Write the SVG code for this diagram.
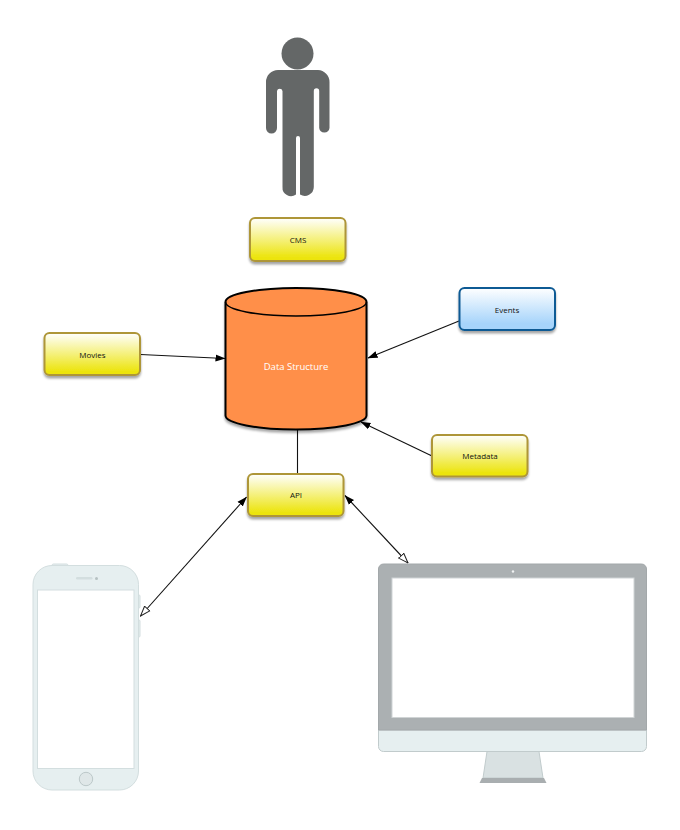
<svg xmlns="http://www.w3.org/2000/svg" width="680" height="830" viewBox="0 0 680 830">
<style>
text{font-family:"Open Sans","DejaVu Sans",sans-serif;text-anchor:middle}
.lbl{font-size:8px;fill:#111}
.y{fill:url(#gy);stroke:#ae9638;stroke-width:2}
.b{fill:url(#gb);stroke:#0e5a94;stroke-width:2}
.c{stroke:#111;stroke-width:1.100;fill:none}
.ph{fill:#e6eff0;stroke:#d3dedf;stroke-width:1}
</style>
<defs>
<linearGradient id="gy" x1="0" y1="0" x2="0" y2="1"><stop offset="0" stop-color="#fff"/><stop offset=".92" stop-color="#ece40c"/><stop offset="1" stop-color="#ece40c"/></linearGradient>
<linearGradient id="gb" x1="0" y1="0" x2="0" y2="1"><stop offset="0" stop-color="#fff"/><stop offset=".85" stop-color="#a6d4fb"/><stop offset="1" stop-color="#a6d4fb"/></linearGradient>
<filter id="sh" x="-10%" y="-15%" width="120%" height="135%"><feDropShadow dx="0" dy="2.500" stdDeviation="1.300" flood-color="#000" flood-opacity=".35"/></filter>
<marker id="af" viewBox="0 0 10 8" refX="9.500" refY="4" markerWidth="10" markerHeight="8" markerUnits="userSpaceOnUse" orient="auto-start-reverse"><path d="M0 .5L10 4L0 7.500Z" fill="#000"/></marker>
<marker id="ao" viewBox="0 0 11 9" refX="10.500" refY="4.500" markerWidth="11" markerHeight="9" markerUnits="userSpaceOnUse" orient="auto"><path d="M.5 1L10.500 4.500L.5 8Z" fill="#fff" stroke="#222" stroke-width="1"/></marker>
</defs>

<g id="person" fill="#646767">
<circle cx="297.500" cy="53.500" r="16"/>
<path d="M278 70H318A12 12 0 0 1 329.500 82V128A5.200 5.200 0 0 1 319.200 128V91A2.700 2.700 0 0 0 313.800 91V187A9 9 0 0 1 300 194.500V138A2 2 0 0 0 296 138V194.500A8.500 8.500 0 0 1 282.500 187V91A2.800 2.800 0 0 0 277 91V128A5.400 5.400 0 0 1 266 128V82A12 12 0 0 1 278 70Z"/>
</g>

<g id="connectors">
<path class="c" d="M297.500 430V473.500"/>
<path class="c" marker-end="url(#af)" d="M140.500 354.500L225 358.500"/>
<path class="c" marker-end="url(#af)" d="M459 321L368 358"/>
<path class="c" marker-end="url(#af)" d="M432 456L361 422"/>
<path class="c" marker-start="url(#af)" marker-end="url(#ao)" d="M246.500 497L140.500 616"/>
<path class="c" marker-start="url(#af)" marker-end="url(#ao)" d="M345 495.500L408 563"/>
</g>

<g id="cms"><rect class="y" filter="url(#sh)" x="250" y="218" width="95.500" height="43" rx="5"/><text class="lbl" x="298" y="242.500">CMS</text></g>
<g id="movies"><rect class="y" filter="url(#sh)" x="44.500" y="333" width="95.500" height="42" rx="5"/><text class="lbl" x="92.500" y="357.500">Movies</text></g>
<g id="api"><rect class="y" filter="url(#sh)" x="248" y="474" width="95.500" height="42" rx="5"/><text class="lbl" x="296" y="497.500">API</text></g>
<g id="events"><rect class="b" filter="url(#sh)" x="459.500" y="288" width="95.500" height="42" rx="5"/><text class="lbl" x="507" y="312.500">Events</text></g>
<g id="metadata"><rect class="y" filter="url(#sh)" x="432" y="435" width="95.500" height="41.500" rx="5"/><text class="lbl" x="480" y="458.500">Metadata</text></g>

<g id="data-structure">
<path filter="url(#sh)" d="M225.500 302A70.500 14 0 0 1 366.500 302V415.500A70.500 14 0 0 1 225.500 415.500Z" fill="#ff8f49" stroke="#000" stroke-width="2"/>
<path d="M225.500 302A70.500 14 0 0 0 366.500 302" fill="none" stroke="#000" stroke-width="1.500"/>
<text x="296" y="370" font-size="9.500" style="fill:#fff">Data Structure</text>
</g>

<g id="phone">
<rect x="52" y="564" width="16" height="4" rx="1.500" class="ph"/>
<rect x="137" y="595" width="3" height="13" rx="1" class="ph"/>
<rect x="137" y="620" width="3" height="17" rx="1" class="ph"/>
<rect x="33" y="565.500" width="105.500" height="224.500" rx="19" class="ph"/>
<rect x="37.500" y="590" width="96.500" height="178.500" fill="#fff" stroke="#d3dedf"/>
<rect x="76" y="577" width="16.500" height="2.500" rx="1.200" fill="#d3dedf"/>
<circle cx="96.500" cy="578.500" r="1.500" fill="#b6c1c2"/>
<circle cx="86" cy="779" r="6.700" fill="#dfe7e8" stroke="#bcc8c9"/>
</g>

<g id="monitor">
<path d="M487 751.500H539L543 778H483Z" fill="#d9e1e2" stroke="#c1cbcc"/>
<path d="M482 778H544L546.500 783H479.500Z" fill="#a9aeb0"/>
<path d="M378.500 730H646.500V746.500A5 5 0 0 1 641.500 751.500H383.500A5 5 0 0 1 378.500 746.500Z" fill="#e6eff0" stroke="#c1cbcc"/>
<path d="M378.500 730V569A5 5 0 0 1 383.500 564H641.500A5 5 0 0 1 646.500 569V730Z" fill="#abb0b2" stroke="#a3a8aa"/>
<rect x="392" y="578" width="242" height="139.500" fill="#fff" stroke="#d0d4d5"/>
<circle cx="513" cy="571.500" r="1.200" fill="#f2f4f4"/>
</g>
</svg>
